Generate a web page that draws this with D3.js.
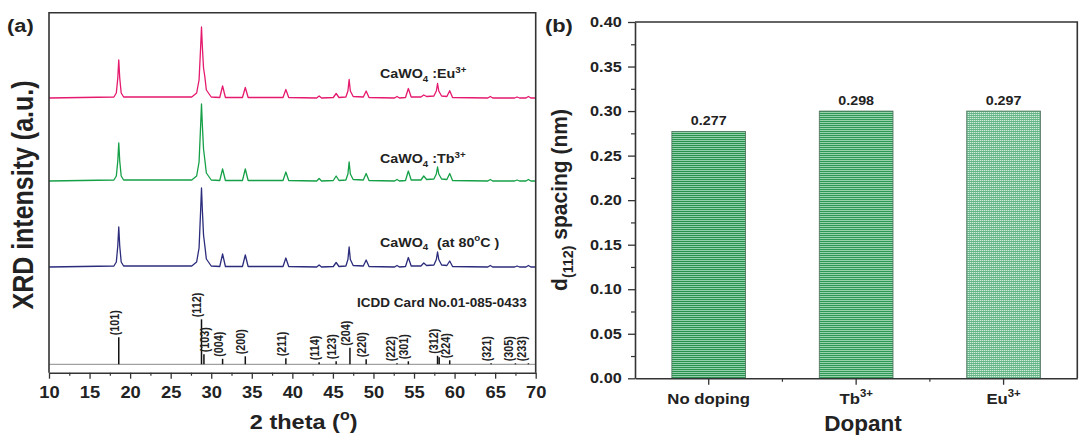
<!DOCTYPE html>
<html>
<head>
<meta charset="utf-8">
<script src="https://cdn.jsdelivr.net/npm/d3@7"></script>
<style>
body{margin:0;background:#fff}
svg{display:block}
text{font-family:Arial,"Liberation Sans",sans-serif;font-weight:bold;fill:#222}
</style>
</head>
<body>
<svg width="1081" height="435"></svg>
<script>
// ---------- panel (a): XRD patterns ----------
// 2theta points, shared by the three patterns
var twoTheta = [10,
    18.0, 18.3, 18.48, 18.6, 18.72, 18.9, 19.2,
    27.6, 28.2, 28.5, 28.7, 28.8, 28.9, 29.05, 29.2, 29.4, 30.0,
    31.05, 31.4, 31.75,
    33.85, 34.2, 34.55,
    38.85, 39.2, 39.55,
    43.0, 43.3, 43.6,
    45.05, 45.4, 45.75,
    46.6, 46.85, 47.0, 47.15, 47.5,
    48.75, 49.1, 49.45,
    52.6, 52.9, 53.2,
    53.95, 54.3, 54.65,
    55.85, 56.2, 56.55,
    57.45, 57.75, 57.9, 58.05, 58.4,
    59.05, 59.4, 59.75,
    64.1, 64.4, 64.7,
    67.4, 67.7, 68.0,
    68.8, 69.1, 69.4,
    70]

var euIntensity = [0,
    1, 5, 20, 38, 20, 5, 1,
    1, 5, 18, 52, 71, 52, 30, 22, 8, 1,
    0.5, 12, 0.5,
    0.5, 10.5, 0.5,
    0.5, 8.5, 0.5,
    0, 2, 0,
    0.5, 4.5, 0.5,
    1, 7, 18.5, 7, 1.5,
    1, 7, 0.5,
    0, 1.5, 0,
    0.5, 9.5, 1,
    1, 3, 1.5,
    2, 7, 14.5, 7, 2,
    1.5, 7.3, 0.5,
    0, 1.5, 0,
    0, 1, 0,
    0, 1.5, 0,
    0]

var tbIntensity = [0,
    1, 5, 20, 38, 20, 5, 1,
    1, 5, 19, 57, 77, 57, 32, 22, 8, 1,
    0.5, 12, 0.5,
    0.5, 12, 0.5,
    0.5, 9, 0.5,
    0, 2.5, 0,
    0.5, 5, 0.5,
    1, 7, 19, 7, 1.5,
    1, 7.5, 0.5,
    0, 1.5, 0,
    0.5, 10, 1,
    1, 5, 1.5,
    2, 7, 14, 7, 2,
    1.5, 7.5, 0.5,
    0, 1.5, 0,
    0, 1, 0,
    0, 1.5, 0,
    0]

var undopedIntensity = [0,
    1, 5, 21, 40, 21, 5, 1,
    1, 5, 19, 58, 79, 58, 32, 22, 8, 1,
    0.5, 13, 0.5,
    0.5, 12, 0.5,
    0.5, 9, 0.5,
    0, 2, 0,
    0.5, 4.5, 0.5,
    1, 7.5, 20, 7.5, 1.5,
    1, 7, 0.5,
    0, 1.5, 0,
    0.5, 9.5, 1,
    1, 4, 1.5,
    2, 7.5, 15, 7.5, 2,
    1.5, 6, 0.5,
    0, 1.5, 0,
    0, 1, 0,
    0, 1.5, 0,
    0]

// stacking offsets (same units as intensity)
var curveOffsets = [274.7, 191.7, 105.7]
var curveColors = ["#e5196e", "#15a047", "#2b2c7c"]

// ICDD reference sticks
var refPos = [18.6, 28.8, 29.1, 31.4, 34.2, 39.2, 43.3, 45.4, 47.1, 49.1, 52.9, 54.3, 57.9, 58.1, 59.4, 64.5, 67.5, 69.1]
var refInt = [27, 45, 10, 5.5, 8, 6, 2, 3, 16.5, 5, 1, 3, 8.5, 7, 4, 1, 1, 1]
var refHkl = ["(101)", "(112)", "(103)", "(004)", "(200)", "(211)", "(114)", "(123)", "(204)", "(220)", "(222)", "(301)", "(312)", "", "(224)", "(321)", "(305)", "(233)"]
var refOffset = 8.4

var xTicksA = [10, 15, 20, 25, 30, 35, 40, 45, 50, 55, 60, 65, 70]

// ---------- panel (b): d(112) spacing ----------
var dopants = ["No doping", "Tb", "Eu"]
var dopantSup = ["", "3+", "3+"]
var spacing = [0.277, 0.300, 0.300]
var spacingLabels = ["0.277", "0.298", "0.297"]
var yTicksB = [0, 0.05, 0.10, 0.15, 0.20, 0.25, 0.30, 0.35, 0.40]

var ink = "#333"
var svg = d3.select("svg")

// text with sub/superscript parts, slightly stretched like the source image
var addText = function(parent, x, y, parts, size, sx, anchor, rotate)
    {
        var t = parent.append("text")
            .attr("transform", "translate(" + x + "," + y + ") scale(" + sx + ",1)" + (rotate ? " rotate(-90)" : ""))
            .attr("font-size", size)
            .attr("text-anchor", anchor || "start")
        var shift = 0
        parts.forEach(function(p)
            {
                var target = p[1] == "sub" ? size * 0.3 : p[1] == "sup" ? -size * 0.42 : 0
                var ts = t.append("tspan").attr("dy", target - shift).text(p[0])
                if (p[1]) ts.attr("font-size", size * 0.68)
                shift = target
            })
        return t
    }

var styleAxis = function(g, size, sx)
    {
        g.attr("font-family", null).attr("font-size", null)
        g.select(".domain").attr("stroke", ink).attr("stroke-width", 1.6)
        g.selectAll(".tick line").attr("stroke", ink).attr("stroke-width", 1.3)
        g.selectAll(".tick text").attr("font-size", size).attr("fill", "#222")
            .attr("transform", "scale(" + sx + ",1)")
    }

// ===== panel (a) =====
var xA = d3.scaleLinear().domain([10, 70]).range([49, 535.7])
var yA = d3.scaleLinear().domain([0, 360]).range([372.7, 12.7])

var panelA = svg.append("g")

// reference baseline + sticks
panelA.append("line")
    .attr("x1", xA(10)).attr("x2", xA(70))
    .attr("y1", yA(refOffset)).attr("y2", yA(refOffset))
    .attr("stroke", "#8a8a8a").attr("stroke-width", 1)

panelA.selectAll(".stick")
    .data(refPos)
    .enter()
    .append("line")
    .attr("class", "stick")
    .attr("x1", function(d){return xA(d)})
    .attr("x2", function(d){return xA(d)})
    .attr("y1", yA(refOffset))
    .attr("y2", function(d, i){return yA(refOffset + refInt[i])})
    .attr("stroke", "#111").attr("stroke-width", 1.5)

var nudge = {"(103)": 5, "(305)": -2, "(233)": -2, "(222)": -2}
refHkl.forEach(function(h, i)
    {
        if (!h) return
        addText(panelA, xA(refPos[i]) + (nudge[h] || 0), yA(refOffset + refInt[i]) - 2, [[h, ""]], 10.8, 1.18, "start", true)
            .attr("dy", "0.36em")
    })

// patterns
var lineA = d3.line()
    .x(function(d, i){return xA(twoTheta[i])})
    .curve(d3.curveLinear)

;[euIntensity, tbIntensity, undopedIntensity].forEach(function(series, k)
    {
        panelA.append("path")
            .attr("d", lineA.y(function(d){return yA(curveOffsets[k] + d)})(series))
            .attr("fill", "none")
            .attr("stroke", curveColors[k])
            .attr("stroke-width", 1.3)
            .attr("stroke-linejoin", "round")
    })

// frame
panelA.append("path")
    .attr("d", "M" + xA(10) + "," + yA(0) + "V" + yA(360) + "H" + xA(70) + "V" + yA(0))
    .attr("fill", "none").attr("stroke", ink).attr("stroke-width", 1.6)

var axA = panelA.append("g")
    .attr("transform", "translate(0," + yA(0) + ")")
    .call(d3.axisBottom(xA).tickValues(xTicksA).tickSize(6).tickPadding(7).tickSizeOuter(0))
styleAxis(axA, 17, 1.08)

var minorA = panelA.append("g")
    .attr("transform", "translate(0," + yA(0) + ")")
    .call(d3.axisBottom(xA).tickValues(xTicksA.slice(0, -1).map(function(v){return v + 2.5})).tickSize(3).tickFormat(""))
minorA.select(".domain").remove()
minorA.selectAll("line").attr("stroke", ink).attr("stroke-width", 1.2)

// texts
addText(panelA, 380, 78, [["CaWO", ""], ["4", "sub"], [" :Eu", ""], ["3+", "sup"]], 13, 1.1)
addText(panelA, 380, 163, [["CaWO", ""], ["4", "sub"], [" :Tb", ""], ["3+", "sup"]], 13, 1.1)
addText(panelA, 380, 246.5, [["CaWO", ""], ["4", "sub"]], 13, 1.1)
addText(panelA, 437, 246.5, [["(at 80", ""], ["o", "sup"], ["C )", ""]], 13, 1.1)
addText(panelA, 526.7, 306.7, [["ICDD Card No.01-085-0433", ""]], 13.5, 1, "end")

addText(svg, 7, 32, [["(a)", ""]], 19, 1.15)
addText(svg, 32.7, 195, [["XRD intensity (a.u.)", ""]], 25, 1.17, "middle", true)
addText(svg, 303.7, 429, [["2 theta (", ""], ["o", "sup"], [")", ""]], 21, 1.12, "middle")

// ===== panel (b) =====
var xB = d3.scaleBand().domain(dopants).range([635, 1077.3]).paddingInner(0.5).paddingOuter(0.25)
var yB = d3.scaleLinear().domain([0, 0.4]).range([378.3, 22])

var panelB = svg.append("g")
var defs = svg.append("defs")

var stripes = function(id, light, dark)
    {
        var p = defs.append("pattern").attr("id", id)
            .attr("patternUnits", "userSpaceOnUse").attr("width", 4).attr("height", 2)
        p.append("rect").attr("width", 4).attr("height", 2).attr("fill", light)
        p.append("rect").attr("y", 1).attr("width", 4).attr("height", 1).attr("fill", dark)
    }
stripes("pat0", "#93cfaa", "#27934f")
stripes("pat1", "#98d2ad", "#2e9857")
var grid = defs.append("pattern").attr("id", "pat2")
    .attr("patternUnits", "userSpaceOnUse").attr("width", 2).attr("height", 2)
grid.append("rect").attr("width", 2).attr("height", 2).attr("fill", "#d2ecdc")
grid.append("rect").attr("y", 1).attr("width", 2).attr("height", 1).attr("fill", "#63b585")
grid.append("rect").attr("x", 1).attr("width", 1).attr("height", 1).attr("fill", "#8dc9a4")

panelB.selectAll(".bar")
    .data(spacing)
    .enter()
    .append("rect")
    .attr("class", "bar")
    .attr("x", function(d, i){return xB(dopants[i])})
    .attr("y", function(d){return yB(d)})
    .attr("width", xB.bandwidth())
    .attr("height", function(d){return yB(0) - yB(d)})
    .attr("fill", function(d, i){return "url(#pat" + i + ")"})
    .attr("stroke", "#4d6e5a").attr("stroke-width", 0.8)

spacing.forEach(function(v, i)
    {
        var cx = xB(dopants[i]) + xB.bandwidth() / 2
        addText(panelB, cx, yB(v) - 6.5, [[spacingLabels[i], ""]], 13, 1.1, "middle")
        addText(panelB, cx, 404, [[dopants[i], ""], [dopantSup[i], "sup"]], 15.5, 1.08, "middle")
    })

// frame top/right
panelB.append("path")
    .attr("d", "M635," + yB(0.4) + "H1077.3V" + yB(0))
    .attr("fill", "none").attr("stroke", ink).attr("stroke-width", 1.6)

var axBy = panelB.append("g")
    .attr("transform", "translate(635,0)")
    .call(d3.axisLeft(yB).tickValues(yTicksB).tickFormat(d3.format(".2f")).tickSize(7).tickPadding(4.9).tickSizeOuter(0))
styleAxis(axBy, 14.5, 1.12)

var minorBy = panelB.append("g")
    .attr("transform", "translate(635,0)")
    .call(d3.axisLeft(yB).tickValues(yTicksB.slice(0, -1).map(function(v){return v + 0.025})).tickSize(4).tickFormat(""))
minorBy.select(".domain").remove()
minorBy.selectAll("line").attr("stroke", ink).attr("stroke-width", 1.2)

var axBx = panelB.append("g")
    .attr("transform", "translate(0," + yB(0) + ")")
    .call(d3.axisBottom(xB).tickSize(6.5).tickFormat("").tickSizeOuter(0))
styleAxis(axBx, 15, 1)

// minor ticks half way between categories
var centers = dopants.map(function(d){return xB(d) + xB.bandwidth() / 2})
panelB.selectAll(".minorx")
    .data(centers.slice(1))
    .enter()
    .append("line")
    .attr("x1", function(d, i){return (d + centers[i]) / 2})
    .attr("x2", function(d, i){return (d + centers[i]) / 2})
    .attr("y1", yB(0)).attr("y2", yB(0) + 3.5)
    .attr("stroke", ink).attr("stroke-width", 1.2)

addText(svg, 545, 32, [["(b)", ""]], 19, 1.15)
addText(svg, 863, 431, [["Dopant", ""]], 22.5, 1, "middle")
addText(svg, 566.5, 200, [["d", ""], ["(112)", "sub"], [" spacing (nm)", ""]], 21, 1.05, "middle", true)
</script>
</body>
</html>
